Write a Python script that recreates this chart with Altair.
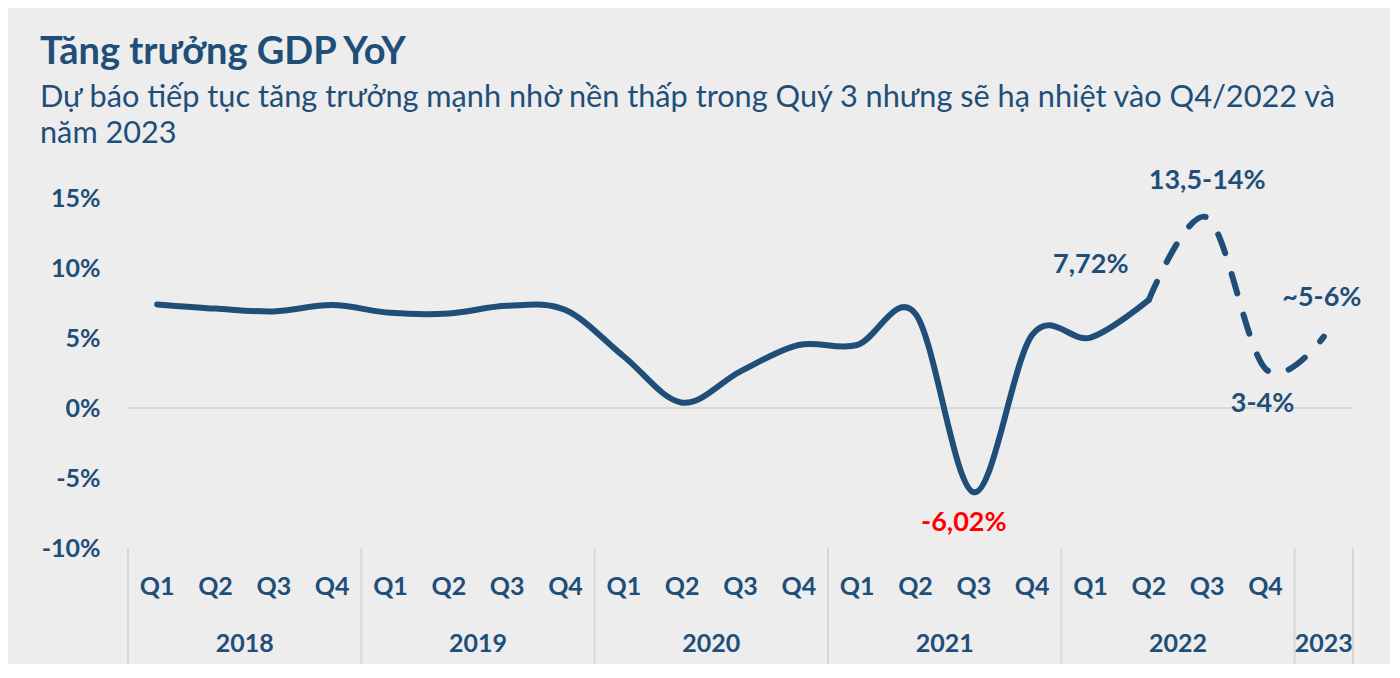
import altair as alt
import pandas as pd

# ---- data ----
quarters = ["Q1", "Q2", "Q3", "Q4"] * 5 + [""]
years = [2018] * 4 + [2019] * 4 + [2020] * 4 + [2021] * 4 + [2022] * 4 + [2023]
gdp = [7.4, 7.1, 6.9, 7.35, 6.8, 6.75, 7.3, 7.0,
       3.68, 0.38, 2.62, 4.5, 4.5, 6.73, -6.02, 5.22,
       5.03, 7.72, 13.6, 2.8, 5.1]
actual_last = 17  # Q2/2022 is last actual value; rest are forecasts

year_names = ["2018", "2019", "2020", "2021", "2022", "2023"]
year_centers = [1.5, 5.5, 9.5, 13.5, 17.5, 20]
separators = [-0.5, 3.5, 7.5, 11.5, 15.5, 19.5, 20.5]
y_ticks = [-10, -5, 0, 5, 10, 15]

ann_text = ["7,72%", "13,5-14%", "3-4%", "~5-6%", "-6,02%"]
ann_idx = [17, 18, 19, 20, 14]
ann_color = ["#1f4e79", "#1f4e79", "#1f4e79", "#1f4e79", "#ff0000"]
ann_dx = [-58, 0, -3, -2, -10]
ann_dy = [-35, -37, 35, -39, 31]

idx = list(range(len(gdp)))
df = pd.DataFrame({"i": idx, "v": gdp, "q": quarters, "year": years})
solid = df[df.i <= actual_last]
dashed = df[df.i >= actual_last]

BLUE = "#1f4e79"
FONT = "Lato"

xs = alt.Scale(domain=[-0.5, 20.5], nice=False, zero=False)
ys = alt.Scale(domain=[-10, 15], nice=False, zero=False)
yaxis = alt.Axis(values=y_ticks, labelExpr="datum.value + '%'",
                 labelFont=FONT, labelFontSize=25, labelFontWeight="bold",
                 labelColor=BLUE, labelPadding=28, domain=False, ticks=False,
                 grid=False, title=None)


def Y(field):
    return alt.Y(field, scale=ys, axis=yaxis)


def X(field):
    return alt.X(field, scale=xs, axis=None)


zero = alt.Chart(pd.DataFrame({"z": [0]})).mark_rule(color="#d9d9d9", strokeWidth=2).encode(
    y=Y("z:Q"))

line_solid = alt.Chart(solid).mark_line(color=BLUE, strokeWidth=6, interpolate="cardinal",
                                        strokeCap="round").encode(x=X("i:Q"), y=Y("v:Q"))
line_dash = alt.Chart(dashed).mark_line(color=BLUE, strokeWidth=6, interpolate="cardinal",
                                        strokeDash=[20, 22], strokeCap="round").encode(
    x=X("i:Q"), y=Y("v:Q"))

sep = alt.Chart(pd.DataFrame({"s": separators})).mark_rule(color="#d6d6d6", strokeWidth=2).encode(
    x=X("s:Q"), y=alt.value(350), y2=alt.value(466))

qlab = alt.Chart(df).mark_text(font=FONT, fontSize=25, fontWeight="bold", color=BLUE,
                               baseline="middle").encode(
    x=X("i:Q"), y=alt.value(389), text="q:N")

ylab = alt.Chart(pd.DataFrame({"c": year_centers, "t": year_names})).mark_text(
    font=FONT, fontSize=25, fontWeight="bold", color=BLUE, baseline="middle").encode(
    x=X("c:Q"), y=alt.value(446), text="t:N")

layers = [zero, line_solid, line_dash, sep, qlab, ylab]
for t, i, c, dx, dy in zip(ann_text, ann_idx, ann_color, ann_dx, ann_dy):
    d = pd.DataFrame({"i": [i], "v": [gdp[i]], "t": [t]})
    layers.append(alt.Chart(d).mark_text(font=FONT, fontSize=27, fontWeight="bold", color=c,
                                         baseline="middle", dx=dx, dy=dy).encode(
        x=X("i:Q"), y=Y("v:Q"), text="t:N"))

chart = alt.layer(*layers).properties(
    width=1225, height=350,
    autosize=alt.AutoSizeParams(type="none"),
    padding={"left": 120, "top": 190, "right": 37, "bottom": 116},
    background="#ededed",
    title=alt.TitleParams(
        text="Tăng trưởng GDP YoY",
        subtitle=["Dự báo tiếp tục tăng trưởng mạnh nhờ nền thấp trong Quý 3 nhưng sẽ hạ nhiệt vào Q4/2022 và",
                  "năm 2023"],
        anchor="start", frame="group", dx=-88, offset=18,
        font=FONT, fontSize=38, fontWeight="bold", color=BLUE,
        subtitleFont=FONT, subtitleFontSize=30.7, subtitleColor=BLUE, subtitlePadding=11,
        subtitleLineHeight=36),
).configure_view(stroke=None)

chart.save("out.html", embed_options={"renderer": "svg", "actions": False})
